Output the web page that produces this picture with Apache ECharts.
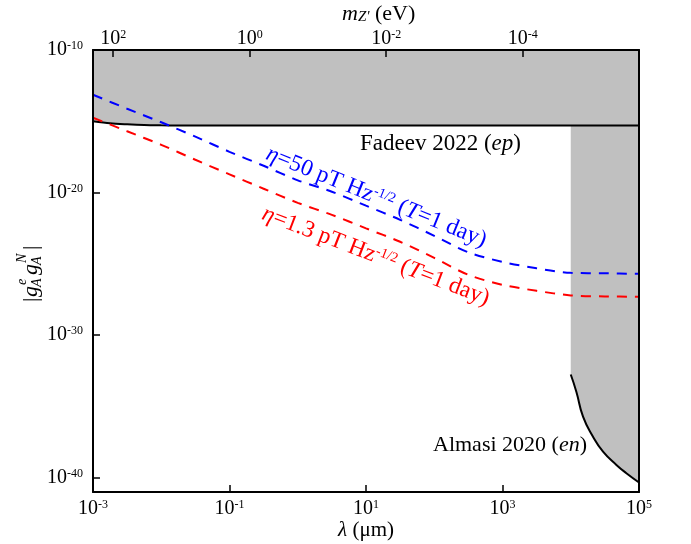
<!DOCTYPE html>
<html>
<head>
<meta charset="utf-8">
<script src="https://cdn.jsdelivr.net/npm/echarts@6/dist/echarts.min.js"></script>
<style>
    html, body { margin: 0; padding: 0; background: #fff; }
    #main { width: 691px; height: 544px; }
</style>
</head>
<body>
<div id="main"></div>
<script>
// x = log10(lambda / um), y = log10(|gA^e gA^N|)
var lamExp = [-3, -2.5, -2, -1.5, -1, -0.5, 0, 0.5, 1, 1.5, 2, 2.5, 3, 3.5, 4, 4.5, 5];
// eta = 50 pT/sqrt(Hz)
var blueExp = [-13.14, -14.12, -15.07, -16.08, -17.14, -18.12, -19.14, -19.94, -20.92, -21.91, -23.03, -24.19, -24.86, -25.31, -25.63, -25.66, -25.70];
// eta = 1.3 pT/sqrt(Hz)
var redExp = [-14.75, -15.70, -16.65, -17.70, -18.72, -19.73, -20.72, -21.56, -22.51, -23.45, -24.58, -25.77, -26.47, -26.89, -27.21, -27.28, -27.31];
// Fadeev 2022 (ep)
var fadeevX = [-3, -2.75, -2.5, -2.25, -2, -1.75, 5];
var fadeevY = [-15.00, -15.14, -15.21, -15.26, -15.28, -15.29, -15.29];
// Almasi 2020 (en)
var almasiX = [4.0, 4.083, 4.18, 4.326, 4.473, 4.669, 4.815, 5.0];
var almasiY = [-32.76, -33.98, -35.71, -37.12, -38.17, -39.10, -39.68, -40.33];

var xMin = -3, xMax = 5;
var yMin = -41, yMax = -10;
var hbarc = 0.1973; // eV um
var mMax = Math.log10(hbarc) - xMin;
var mMin = Math.log10(hbarc) - xMax;

var serif = 'Liberation Serif';
var gray = '#c0c0c0';

function pairs(xs, ys) {
    return xs.map(function(x, i) { return [x, ys[i]]; });
}

var powRich = {
    b: { fontSize: 20, fontFamily: serif, color: '#000', lineHeight: 20 },
    s: { fontSize: 12, fontFamily: serif, color: '#000', lineHeight: 10, verticalAlign: 'top' }
};
function powLabel(v) {
    return '{b|10}{s|' + Math.round(v) + '}';
}

var myChart = echarts.init(document.getElementById('main'));

var option = {
    animation: false,
    backgroundColor: '#fff',
    grid: { left: 93, right: 52, top: 50, bottom: 52, containLabel: false, outerBoundsMode: 'none' },
    xAxis: [{
        type: 'value',
        min: xMin,
        max: xMax,
        interval: 2,
        position: 'bottom',
        z: 10,
        axisLine: { show: true, onZero: false, lineStyle: { color: '#000', width: 2 } },
        axisTick: { show: true, inside: true, length: 7, lineStyle: { color: '#000', width: 1.5 } },
        splitLine: { show: false },
        axisLabel: { margin: 7, formatter: powLabel, rich: powRich },
        name: '{i|λ}{n| (μm)}',
        nameLocation: 'middle',
        nameGap: 28,
        nameMoveOverlap: false,
        nameTextStyle: {
            verticalAlign: 'top',
            rich: {
                i: { fontSize: 21, fontFamily: serif, fontStyle: 'italic', color: '#000' },
                n: { fontSize: 21, fontFamily: serif, color: '#000' }
            }
        }
    }, {
        type: 'value',
        min: mMin,
        max: mMax,
        inverse: true,
        splitNumber: 4,
        position: 'top',
        z: 10,
        axisLine: { show: true, onZero: false, lineStyle: { color: '#000', width: 2 } },
        axisTick: { show: true, inside: true, length: 7, lineStyle: { color: '#000', width: 1.5 } },
        splitLine: { show: false },
        axisLabel: { margin: 1, showMinLabel: false, showMaxLabel: false, formatter: powLabel, rich: powRich }
    }],
    yAxis: [{
        type: 'value',
        min: yMin,
        max: yMax,
        splitNumber: 3,
        position: 'left',
        z: 10,
        axisLine: { show: true, onZero: false, lineStyle: { color: '#000', width: 2 } },
        axisTick: { show: true, inside: true, length: 7, lineStyle: { color: '#000', width: 1.5 } },
        splitLine: { show: false },
        axisLabel: { margin: 10, showMinLabel: false, formatter: powLabel, rich: powRich }
    }, {
        type: 'value',
        min: yMin,
        max: yMax,
        position: 'right',
        z: 10,
        axisLine: { show: true, onZero: false, lineStyle: { color: '#000', width: 2 } },
        axisTick: { show: false },
        axisLabel: { show: false },
        splitLine: { show: false }
    }],
    series: [{
        name: 'Almasi 2020',
        type: 'line',
        data: pairs(almasiX, almasiY),
        smooth: true,
        showSymbol: false,
        lineStyle: { color: '#000', width: 2 },
        areaStyle: { color: gray, opacity: 1, origin: 'end' }
    }, {
        name: 'Fadeev 2022',
        type: 'line',
        data: pairs(fadeevX, fadeevY),
        smooth: 0.3,
        showSymbol: false,
        lineStyle: { color: '#000', width: 2 },
        areaStyle: { color: gray, opacity: 1, origin: 'end' }
    }, {
        name: 'eta 50',
        type: 'line',
        data: pairs(lamExp, blueExp),
        smooth: 0.3,
        showSymbol: false,
        lineStyle: { color: '#0000ff', width: 2, type: [10, 8] }
    }, {
        name: 'eta 1.3',
        type: 'line',
        data: pairs(lamExp, redExp),
        smooth: 0.3,
        showSymbol: false,
        lineStyle: { color: '#ff0000', width: 2, type: [10, 8] }
    }],
    graphic: [{
        // top axis title
        type: 'text',
        x: 342, y: 14,
        style: {
            text: '{i|m}{sub|Z\'}{n| (eV)}',
            verticalAlign: 'middle', textVerticalAlign: 'middle',
            fill: '#000',
            rich: {
                i: { fontSize: 22, fontFamily: serif, fontStyle: 'italic', lineHeight: 22 },
                sub: { fontSize: 15, fontFamily: serif, fontStyle: 'italic', lineHeight: 12, verticalAlign: 'bottom' },
                n: { fontSize: 22, fontFamily: serif, lineHeight: 22 }
            }
        }
    }, {
        // y axis title |g_A^e g_A^N|
        type: 'group',
        x: 31, y: 272,
        rotation: Math.PI / 2,
        children: [
            { type: 'text', x: -30, y: 0, style: { text: '|', fontSize: 22, fontFamily: serif, fill: '#000', verticalAlign: 'middle', textVerticalAlign: 'middle' } },
            { type: 'text', x: -25, y: 0, style: { text: 'g', fontSize: 22, fontFamily: serif, fontStyle: 'italic', fill: '#000', verticalAlign: 'middle', textVerticalAlign: 'middle' } },
            { type: 'text', x: -13, y: -9, style: { text: 'e', fontSize: 14, fontFamily: serif, fontStyle: 'italic', fill: '#000', verticalAlign: 'middle', textVerticalAlign: 'middle' } },
            { type: 'text', x: -15, y: 6, style: { text: 'A', fontSize: 14, fontFamily: serif, fontStyle: 'italic', fill: '#000', verticalAlign: 'middle', textVerticalAlign: 'middle' } },
            { type: 'text', x: -3, y: 0, style: { text: 'g', fontSize: 22, fontFamily: serif, fontStyle: 'italic', fill: '#000', verticalAlign: 'middle', textVerticalAlign: 'middle' } },
            { type: 'text', x: 9, y: -9, style: { text: 'N', fontSize: 14, fontFamily: serif, fontStyle: 'italic', fill: '#000', verticalAlign: 'middle', textVerticalAlign: 'middle' } },
            { type: 'text', x: 7, y: 6, style: { text: 'A', fontSize: 14, fontFamily: serif, fontStyle: 'italic', fill: '#000', verticalAlign: 'middle', textVerticalAlign: 'middle' } },
            { type: 'text', x: 22, y: 0, style: { text: '|', fontSize: 22, fontFamily: serif, fill: '#000', verticalAlign: 'middle', textVerticalAlign: 'middle' } }
        ]
    }, {
        type: 'text',
        x: 360, y: 144,
        z: 20,
        style: {
            text: '{n|Fadeev 2022 (}{i|ep}{n|)}',
            verticalAlign: 'middle', textVerticalAlign: 'middle',
            fill: '#000',
            rich: {
                n: { fontSize: 23, fontFamily: serif },
                i: { fontSize: 23, fontFamily: serif, fontStyle: 'italic' }
            }
        }
    }, {
        type: 'text',
        x: 433, y: 445,
        z: 20,
        style: {
            text: '{n|Almasi 2020 (}{i|en}{n|)}',
            verticalAlign: 'middle', textVerticalAlign: 'middle',
            fill: '#000',
            rich: {
                n: { fontSize: 22, fontFamily: serif },
                i: { fontSize: 22, fontFamily: serif, fontStyle: 'italic' }
            }
        }
    }, {
        type: 'text',
        x: 267, y: 153,
        z: 20,
        rotation: -22 * Math.PI / 180,
        style: {
            text: '{i|η}{n|=50 pT Hz}{s|-1/2}{n| (}{i|T}{n|=1 day)}',
            verticalAlign: 'middle', textVerticalAlign: 'middle',
            fill: '#0000ff',
            rich: {
                n: { fontSize: 23.5, fontFamily: serif, lineHeight: 24 },
                i: { fontSize: 23.5, fontFamily: serif, fontStyle: 'italic', lineHeight: 24 },
                s: { fontSize: 14, fontFamily: serif, lineHeight: 12, verticalAlign: 'top' }
            }
        }
    }, {
        type: 'text',
        x: 263, y: 213,
        z: 20,
        rotation: -21 * Math.PI / 180,
        style: {
            text: '{i|η}{n|=1.3 pT Hz}{s|-1/2}{n| (}{i|T}{n|=1 day)}',
            verticalAlign: 'middle', textVerticalAlign: 'middle',
            fill: '#ff0000',
            rich: {
                n: { fontSize: 23.5, fontFamily: serif, lineHeight: 24 },
                i: { fontSize: 23.5, fontFamily: serif, fontStyle: 'italic', lineHeight: 24 },
                s: { fontSize: 14, fontFamily: serif, lineHeight: 12, verticalAlign: 'top' }
            }
        }
    }]
};

myChart.setOption(option);
window.addEventListener('resize', function() {
    myChart.resize();
});
</script>
</body>
</html>
